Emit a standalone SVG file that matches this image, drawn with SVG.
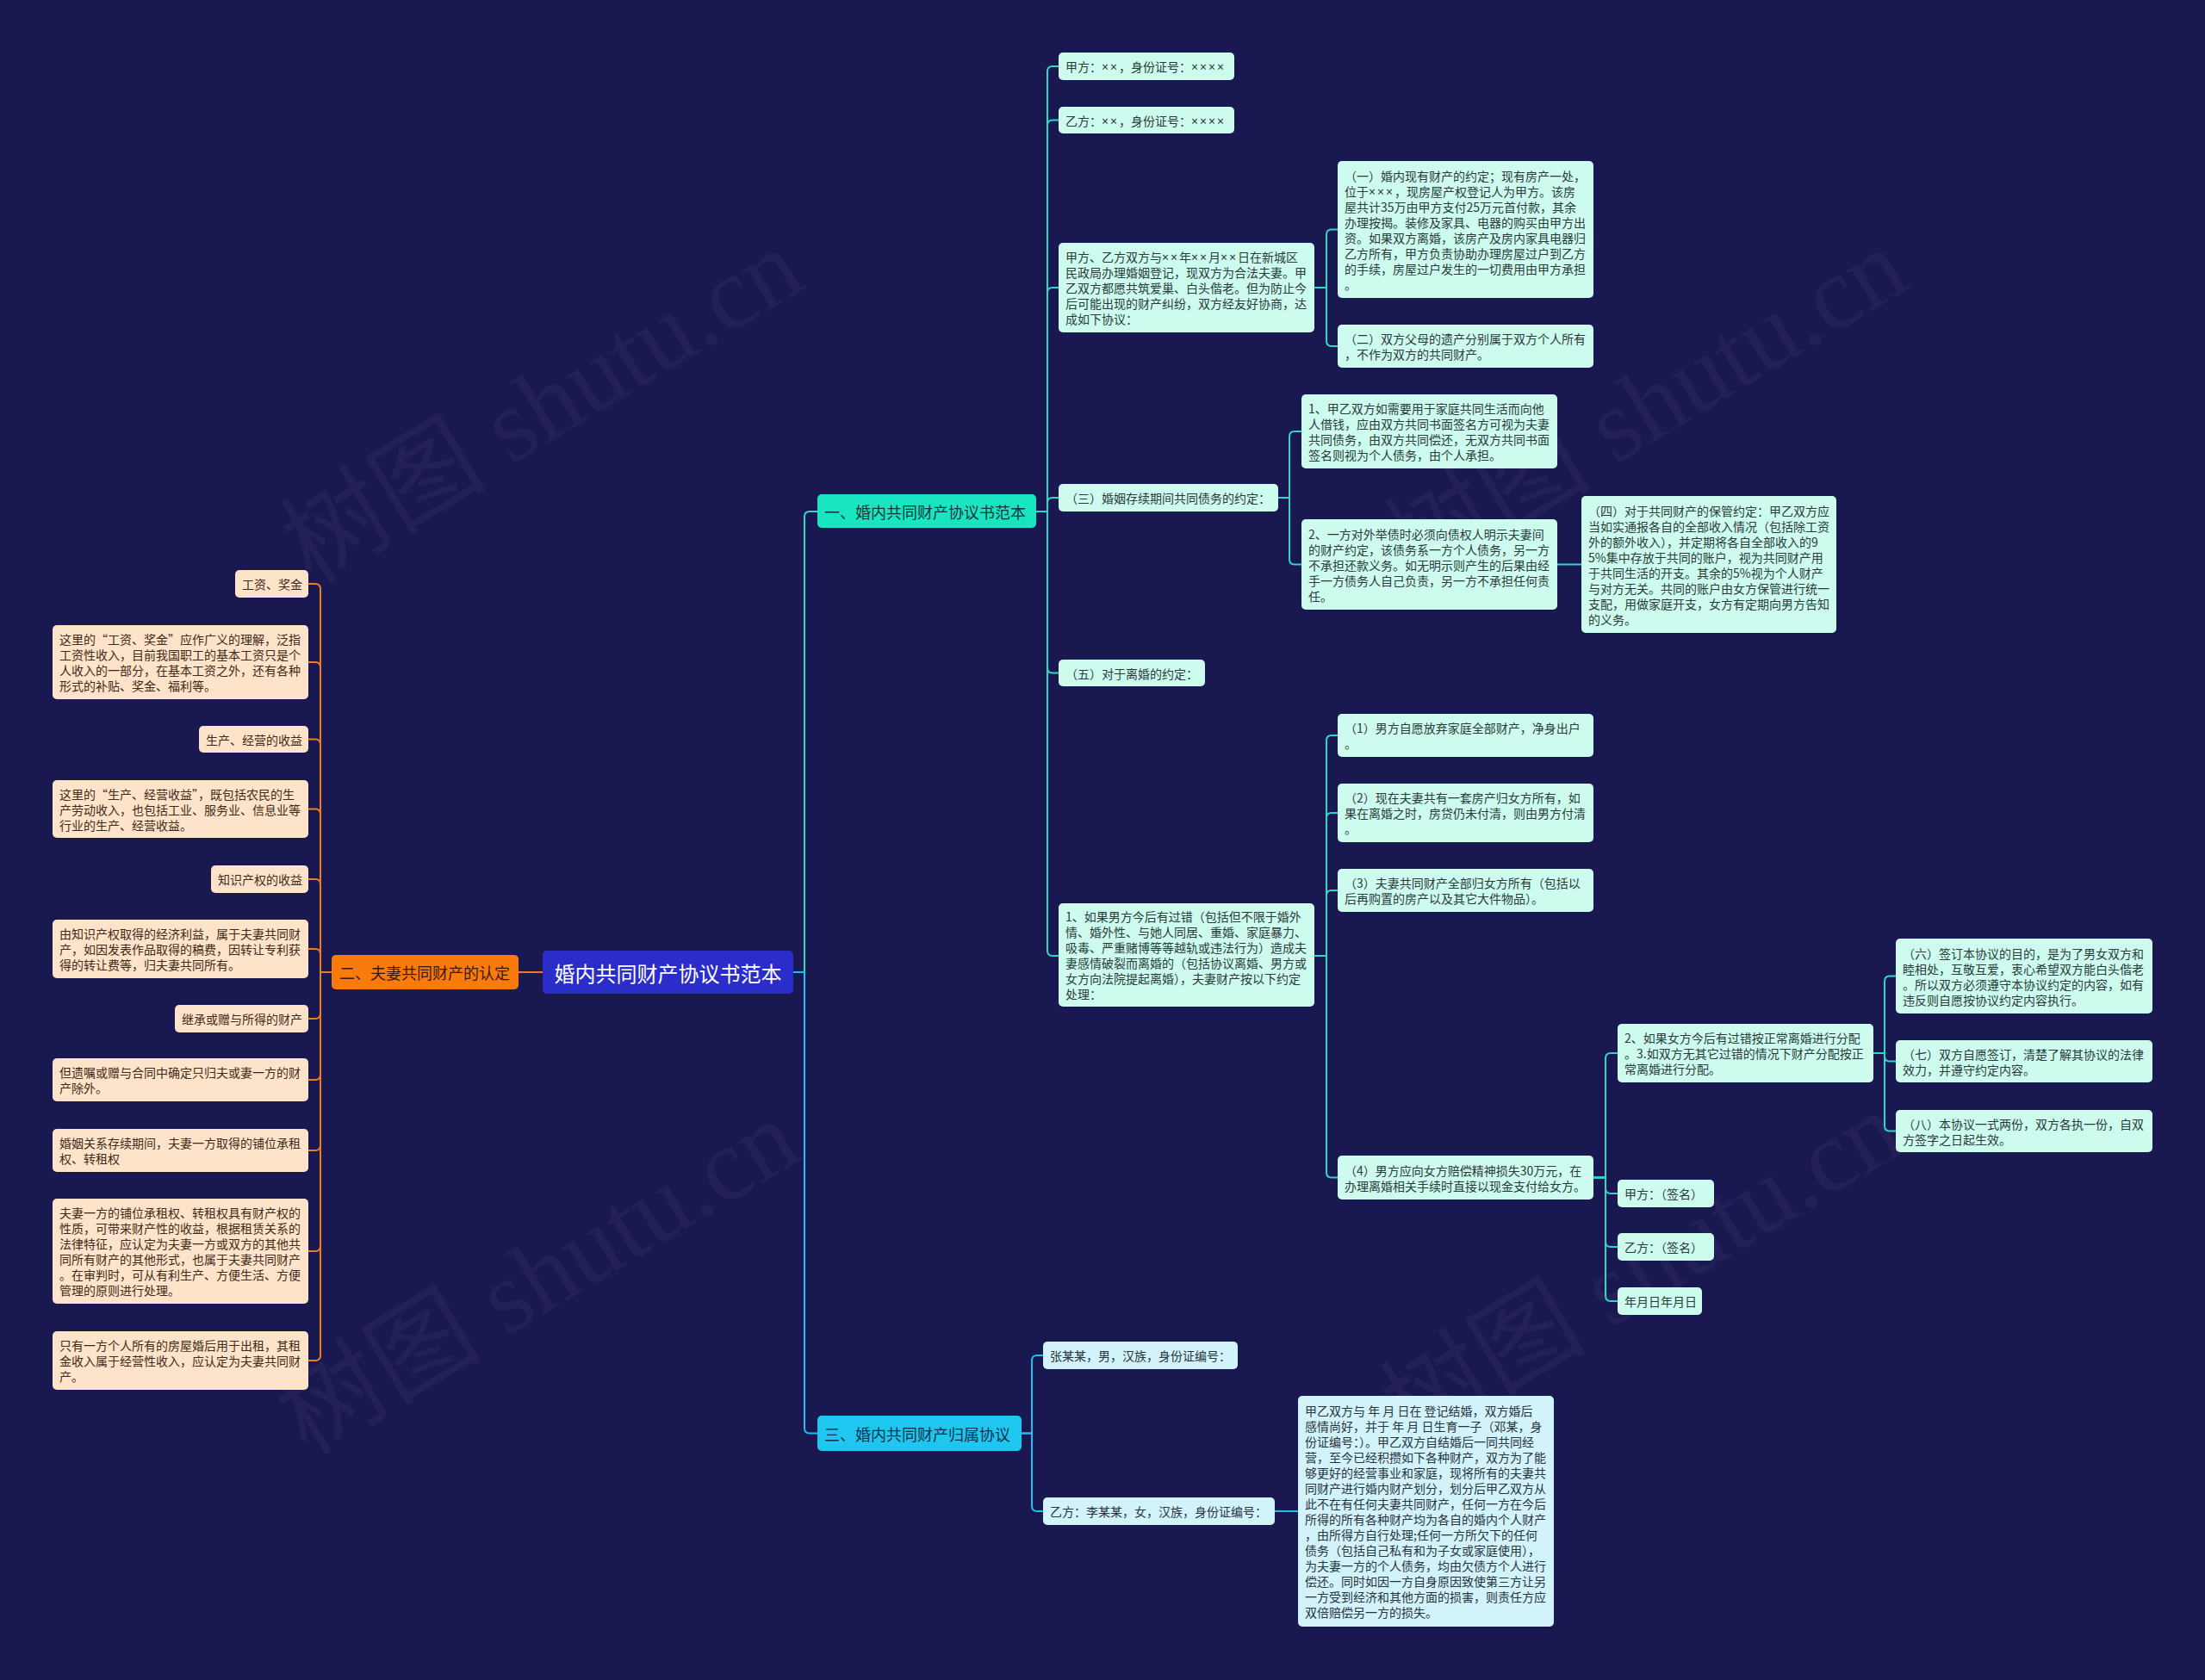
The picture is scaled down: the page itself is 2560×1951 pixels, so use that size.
<svg xmlns="http://www.w3.org/2000/svg" width="2560" height="1951" viewBox="0 0 2560 1951">
<style>
.t{font-family:"Noto Sans CJK SC","Noto Sans",sans-serif;font-size:14px;dominant-baseline:central;}
.x{font-family:"Noto Sans","Liberation Sans",sans-serif;letter-spacing:2px;}
.m rect{fill:#cdfcef;}
.m text{fill:#2a3a3a;}
.b rect{fill:#d3f3fb;}
.b text{fill:#27343d;}
.p rect{fill:#fde3c9;}
.p text{fill:#3f2a18;}
.wm{font-family:"Liberation Serif","Noto Sans CJK SC",serif;font-size:120px;fill:#ffffff;fill-opacity:0.035;text-anchor:middle;}
.c{fill:none;stroke-width:2;}
.ct{stroke:#2fd8c4;}
.cb{stroke:#1fbdf0;}
.co{stroke:#f07c1e;}
</style>
<rect x="0" y="0" width="2560" height="1951" fill="#1a1851"/>
<g id="watermarks">
<text class="wm" transform="translate(650,506) rotate(-31)">树图 shutu.cn</text>
<text class="wm" transform="translate(1932,506) rotate(-31)">树图 shutu.cn</text>
<text class="wm" transform="translate(645,1518) rotate(-31)">树图 shutu.cn</text>
<text class="wm" transform="translate(1927,1508) rotate(-31)">树图 shutu.cn</text>
</g>
<g id="connectors">
<path class="c ct" d="M921,1129 H934 V600 Q934,594 940,594 H949"/>
<path class="c cb" d="M921,1129 H934 V1658.5 Q934,1664.5 940,1664.5 H949"/>
<path class="c co" d="M630,1129 H602"/>
<path class="c ct" d="M1203,594 H1216 V83 Q1216,77 1222,77 H1229"/>
<path class="c ct" d="M1203,594 H1216 V145.5 Q1216,139.5 1222,139.5 H1229"/>
<path class="c ct" d="M1203,594 H1216 V340 Q1216,334 1222,334 H1229"/>
<path class="c ct" d="M1203,594 H1216 V584 Q1216,578 1222,578 H1229"/>
<path class="c ct" d="M1203,594 H1216 V775.5 Q1216,781.5 1222,781.5 H1229"/>
<path class="c ct" d="M1203,594 H1216 V1104 Q1216,1110 1222,1110 H1229"/>
<path class="c ct" d="M1526,334 H1540 V272.5 Q1540,266.5 1546,266.5 H1553"/>
<path class="c ct" d="M1526,334 H1540 V396 Q1540,402 1546,402 H1553"/>
<path class="c ct" d="M1484,578 H1497 V507 Q1497,501 1503,501 H1511"/>
<path class="c ct" d="M1484,578 H1497 V649.5 Q1497,655.5 1503,655.5 H1511"/>
<path class="c ct" d="M1808,655.5 H1836"/>
<path class="c ct" d="M1526,1110 H1540 V860 Q1540,854 1546,854 H1553"/>
<path class="c ct" d="M1526,1110 H1540 V950 Q1540,944 1546,944 H1553"/>
<path class="c ct" d="M1526,1110 H1540 V1040 Q1540,1034 1546,1034 H1553"/>
<path class="c ct" d="M1526,1110 H1540 V1361.5 Q1540,1367.5 1546,1367.5 H1553"/>
<path class="c ct" d="M1850,1367.5 H1864 V1229 Q1864,1223 1870,1223 H1878"/>
<path class="c ct" d="M1850,1367.5 H1864 V1380 Q1864,1386 1870,1386 H1878"/>
<path class="c ct" d="M1850,1367.5 H1864 V1442 Q1864,1448 1870,1448 H1878"/>
<path class="c ct" d="M1850,1367.5 H1864 V1505 Q1864,1511 1870,1511 H1878"/>
<path class="c ct" d="M2175,1223 H2188 V1139.5 Q2188,1133.5 2194,1133.5 H2201"/>
<path class="c ct" d="M2175,1223 H2188 V1226.5 Q2188,1232.5 2194,1232.5 H2201"/>
<path class="c ct" d="M2175,1223 H2188 V1307.5 Q2188,1313.5 2194,1313.5 H2201"/>
<path class="c cb" d="M1186,1664.5 H1198 V1580 Q1198,1574 1204,1574 H1211"/>
<path class="c cb" d="M1186,1664.5 H1198 V1749 Q1198,1755 1204,1755 H1211"/>
<path class="c cb" d="M1480,1755 H1507"/>
<path class="c co" d="M385,1129 H372 V684 Q372,678 366,678 H358"/>
<path class="c co" d="M385,1129 H372 V775 Q372,769 366,769 H358"/>
<path class="c co" d="M385,1129 H372 V864.5 Q372,858.5 366,858.5 H358"/>
<path class="c co" d="M385,1129 H372 V945.5 Q372,939.5 366,939.5 H358"/>
<path class="c co" d="M385,1129 H372 V1027 Q372,1021 366,1021 H358"/>
<path class="c co" d="M385,1129 H372 V1108 Q372,1102 366,1102 H358"/>
<path class="c co" d="M385,1129 H372 V1177 Q372,1183 366,1183 H358"/>
<path class="c co" d="M385,1129 H372 V1248 Q372,1254 366,1254 H358"/>
<path class="c co" d="M385,1129 H372 V1330 Q372,1336 366,1336 H358"/>
<path class="c co" d="M385,1129 H372 V1447 Q372,1453 366,1453 H358"/>
<path class="c co" d="M385,1129 H372 V1574 Q372,1580 366,1580 H358"/>
</g>
<g id="root">
<rect x="630" y="1104" width="291" height="50" rx="5" fill="#2a2dc9"/>
<text x="775.5" y="1129" text-anchor="middle" style="font-family:'Noto Sans CJK SC',sans-serif;font-size:24px;fill:#ffffff;dominant-baseline:central">婚内共同财产协议书范本</text>
</g>
<g id="branch1">
<rect x="949" y="574" width="254" height="39" rx="5" fill="#19e6c1"/>
<text x="957" y="593.5" style="font-family:'Noto Sans CJK SC',sans-serif;font-size:18px;fill:#17363a;dominant-baseline:central">一、婚内共同财产协议书范本</text>
</g>
<g id="branch2">
<rect x="385" y="1109" width="217" height="40" rx="5" fill="#fb7a0c"/>
<text x="394" y="1129" style="font-family:'Noto Sans CJK SC',sans-serif;font-size:18px;fill:#3a1a05;dominant-baseline:central">二、夫妻共同财产的认定</text>
</g>
<g id="branch3">
<rect x="949" y="1644" width="237" height="41" rx="5" fill="#1ec6f0"/>
<text x="957" y="1664.5" style="font-family:'Noto Sans CJK SC',sans-serif;font-size:18px;fill:#14304a;dominant-baseline:central">三、婚内共同财产归属协议</text>
</g>
<g id="a1" class="m"><rect x="1229" y="61" width="204" height="32" rx="5"/><text class="t"><tspan x="1237" y="77">甲方：<tspan class="x">××</tspan>，身份证号：<tspan class="x">××××</tspan></tspan></text></g>
<g id="a2" class="m"><rect x="1229" y="124" width="204" height="31" rx="5"/><text class="t"><tspan x="1237" y="139.5">乙方：<tspan class="x">××</tspan>，身份证号：<tspan class="x">××××</tspan></tspan></text></g>
<g id="a3" class="m"><rect x="1229" y="282" width="297" height="104" rx="5"/><text class="t">
<tspan x="1237" y="298">甲方、乙方双方与<tspan class="x">××</tspan>年<tspan class="x">××</tspan>月<tspan class="x">××</tspan>日在新城区</tspan>
<tspan x="1237" y="316">民政局办理婚姻登记，现双方为合法夫妻。甲</tspan>
<tspan x="1237" y="334">乙双方都愿共筑爱巢、白头偕老。但为防止今</tspan>
<tspan x="1237" y="352">后可能出现的财产纠纷，双方经友好协商，达</tspan>
<tspan x="1237" y="370">成如下协议：</tspan></text></g>
<g id="a3a" class="m"><rect x="1553" y="187" width="297" height="159" rx="5"/><text class="t">
<tspan x="1561" y="203.5">（一）婚内现有财产的约定；现有房产一处，</tspan>
<tspan x="1561" y="221.5">位于<tspan class="x">×××</tspan>，现房屋产权登记人为甲方。该房</tspan>
<tspan x="1561" y="239.5">屋共计35万由甲方支付25万元首付款，其余</tspan>
<tspan x="1561" y="257.5">办理按揭。装修及家具、电器的购买由甲方出</tspan>
<tspan x="1561" y="275.5">资。如果双方离婚，该房产及房内家具电器归</tspan>
<tspan x="1561" y="293.5">乙方所有，甲方负责协助办理房屋过户到乙方</tspan>
<tspan x="1561" y="311.5">的手续，房屋过户发生的一切费用由甲方承担</tspan>
<tspan x="1561" y="329.5">。</tspan></text></g>
<g id="a3b" class="m"><rect x="1553" y="377" width="297" height="50" rx="5"/><text class="t">
<tspan x="1561" y="393">（二）双方父母的遗产分别属于双方个人所有</tspan>
<tspan x="1561" y="411">，不作为双方的共同财产。</tspan></text></g>
<g id="a4" class="m"><rect x="1229" y="562" width="255" height="32" rx="5"/><text class="t"><tspan x="1237" y="578">（三）婚姻存续期间共同债务的约定：</tspan></text></g>
<g id="a4a" class="m"><rect x="1511" y="458" width="297" height="86" rx="5"/><text class="t">
<tspan x="1519" y="474">1、甲乙双方如需要用于家庭共同生活而向他</tspan>
<tspan x="1519" y="492">人借钱，应由双方共同书面签名方可视为夫妻</tspan>
<tspan x="1519" y="510">共同债务，由双方共同偿还，无双方共同书面</tspan>
<tspan x="1519" y="528">签名则视为个人债务，由个人承担。</tspan></text></g>
<g id="a4b" class="m"><rect x="1511" y="603" width="297" height="105" rx="5"/><text class="t">
<tspan x="1519" y="619.5">2、一方对外举债时必须向债权人明示夫妻间</tspan>
<tspan x="1519" y="637.5">的财产约定，该债务系一方个人债务，另一方</tspan>
<tspan x="1519" y="655.5">不承担还款义务。如无明示则产生的后果由经</tspan>
<tspan x="1519" y="673.5">手一方债务人自己负责，另一方不承担任何责</tspan>
<tspan x="1519" y="691.5">任。</tspan></text></g>
<g id="a4c" class="m"><rect x="1836" y="576" width="296" height="159" rx="5"/><text class="t">
<tspan x="1844" y="592.5">（四）对于共同财产的保管约定：甲乙双方应</tspan>
<tspan x="1844" y="610.5">当如实通报各自的全部收入情况（包括除工资</tspan>
<tspan x="1844" y="628.5">外的额外收入），并定期将各自全部收入的9</tspan>
<tspan x="1844" y="646.5">5%集中存放于共同的账户，视为共同财产用</tspan>
<tspan x="1844" y="664.5">于共同生活的开支。其余的5%视为个人财产</tspan>
<tspan x="1844" y="682.5">与对方无关。共同的账户由女方保管进行统一</tspan>
<tspan x="1844" y="700.5">支配，用做家庭开支，女方有定期向男方告知</tspan>
<tspan x="1844" y="718.5">的义务。</tspan></text></g>
<g id="a5" class="m"><rect x="1229" y="766" width="170" height="31" rx="5"/><text class="t"><tspan x="1237" y="781.5">（五）对于离婚的约定：</tspan></text></g>
<g id="a6" class="m"><rect x="1229" y="1049" width="297" height="120" rx="5"/><text class="t">
<tspan x="1237" y="1064">1、如果男方今后有过错（包括但不限于婚外</tspan>
<tspan x="1237" y="1082">情、婚外性、与她人同居、重婚、家庭暴力、</tspan>
<tspan x="1237" y="1100">吸毒、严重赌博等等越轨或违法行为）造成夫</tspan>
<tspan x="1237" y="1118">妻感情破裂而离婚的（包括协议离婚、男方或</tspan>
<tspan x="1237" y="1136">女方向法院提起离婚），夫妻财产按以下约定</tspan>
<tspan x="1237" y="1154">处理：</tspan></text></g>
<g id="a6a" class="m"><rect x="1553" y="829" width="297" height="50" rx="5"/><text class="t">
<tspan x="1561" y="845">（1）男方自愿放弃家庭全部财产，净身出户</tspan>
<tspan x="1561" y="863">。</tspan></text></g>
<g id="a6b" class="m"><rect x="1553" y="910" width="297" height="68" rx="5"/><text class="t">
<tspan x="1561" y="926">（2）现在夫妻共有一套房产归女方所有，如</tspan>
<tspan x="1561" y="944">果在离婚之时，房贷仍未付清，则由男方付清</tspan>
<tspan x="1561" y="962">。</tspan></text></g>
<g id="a6c" class="m"><rect x="1553" y="1009" width="297" height="50" rx="5"/><text class="t">
<tspan x="1561" y="1025">（3）夫妻共同财产全部归女方所有（包括以</tspan>
<tspan x="1561" y="1043">后再购置的房产以及其它大件物品）。</tspan></text></g>
<g id="a6d" class="m"><rect x="1553" y="1342" width="297" height="51" rx="5"/><text class="t">
<tspan x="1561" y="1358.5">（4）男方应向女方赔偿精神损失30万元，在</tspan>
<tspan x="1561" y="1376.5">办理离婚相关手续时直接以现金支付给女方。</tspan></text></g>
<g id="a7" class="m"><rect x="1878" y="1189" width="297" height="68" rx="5"/><text class="t">
<tspan x="1886" y="1205">2、如果女方今后有过错按正常离婚进行分配</tspan>
<tspan x="1886" y="1223">。3.如双方无其它过错的情况下财产分配按正</tspan>
<tspan x="1886" y="1241">常离婚进行分配。</tspan></text></g>
<g id="a7a" class="m"><rect x="2201" y="1090" width="298" height="87" rx="5"/><text class="t">
<tspan x="2209" y="1106.5">（六）签订本协议的目的，是为了男女双方和</tspan>
<tspan x="2209" y="1124.5">睦相处，互敬互爱，衷心希望双方能白头偕老</tspan>
<tspan x="2209" y="1142.5">。所以双方必须遵守本协议约定的内容，如有</tspan>
<tspan x="2209" y="1160.5">违反则自愿按协议约定内容执行。</tspan></text></g>
<g id="a7b" class="m"><rect x="2201" y="1208" width="298" height="49" rx="5"/><text class="t">
<tspan x="2209" y="1223.5">（七）双方自愿签订，清楚了解其协议的法律</tspan>
<tspan x="2209" y="1241.5">效力，并遵守约定内容。</tspan></text></g>
<g id="a7c" class="m"><rect x="2201" y="1289" width="298" height="49" rx="5"/><text class="t">
<tspan x="2209" y="1304.5">（八）本协议一式两份，双方各执一份，自双</tspan>
<tspan x="2209" y="1322.5">方签字之日起生效。</tspan></text></g>
<g id="a8" class="m"><rect x="1878" y="1370" width="112" height="32" rx="5"/><text class="t"><tspan x="1886" y="1386">甲方：（签名）</tspan></text></g>
<g id="a9" class="m"><rect x="1878" y="1432" width="112" height="32" rx="5"/><text class="t"><tspan x="1886" y="1448">乙方：（签名）</tspan></text></g>
<g id="a10" class="m"><rect x="1878" y="1495" width="98" height="32" rx="5"/><text class="t"><tspan x="1886" y="1511">年月日年月日</tspan></text></g>
<g id="c1" class="b"><rect x="1211" y="1558" width="226" height="32" rx="5"/><text class="t"><tspan x="1219" y="1574">张某某，男，汉族，身份证编号：</tspan></text></g>
<g id="c2" class="b"><rect x="1211" y="1739" width="269" height="32" rx="5"/><text class="t"><tspan x="1219" y="1755">乙方：李某某，女，汉族，身份证编号：</tspan></text></g>
<g id="c3" class="b"><rect x="1507" y="1621" width="297" height="268" rx="5"/><text class="t">
<tspan x="1515" y="1638">甲乙双方与 年 月 日在 登记结婚，双方婚后</tspan>
<tspan x="1515" y="1656">感情尚好，并于 年 月 日生育一子（邓某，身</tspan>
<tspan x="1515" y="1674">份证编号：）。甲乙双方自结婚后一同共同经</tspan>
<tspan x="1515" y="1692">营，至今已经积攒如下各种财产，双方为了能</tspan>
<tspan x="1515" y="1710">够更好的经营事业和家庭，现将所有的夫妻共</tspan>
<tspan x="1515" y="1728">同财产进行婚内财产划分，划分后甲乙双方从</tspan>
<tspan x="1515" y="1746">此不在有任何夫妻共同财产，任何一方在今后</tspan>
<tspan x="1515" y="1764">所得的所有各种财产均为各自的婚内个人财产</tspan>
<tspan x="1515" y="1782">，由所得方自行处理;任何一方所欠下的任何</tspan>
<tspan x="1515" y="1800">债务（包括自己私有和为子女或家庭使用），</tspan>
<tspan x="1515" y="1818">为夫妻一方的个人债务，均由欠债方个人进行</tspan>
<tspan x="1515" y="1836">偿还。同时如因一方自身原因致使第三方让另</tspan>
<tspan x="1515" y="1854">一方受到经济和其他方面的损害，则责任方应</tspan>
<tspan x="1515" y="1872">双倍赔偿另一方的损失。</tspan></text></g>
<g id="b1" class="p"><rect x="273" y="662" width="85" height="32" rx="5"/><text class="t"><tspan x="281" y="678">工资、奖金</tspan></text></g>
<g id="b2" class="p"><rect x="61" y="726" width="297" height="86" rx="5"/><text class="t">
<tspan x="69" y="742">这里的“工资、奖金”应作广义的理解，泛指</tspan>
<tspan x="69" y="760">工资性收入，目前我国职工的基本工资只是个</tspan>
<tspan x="69" y="778">人收入的一部分，在基本工资之外，还有各种</tspan>
<tspan x="69" y="796">形式的补贴、奖金、福利等。</tspan></text></g>
<g id="b3" class="p"><rect x="231" y="843" width="127" height="31" rx="5"/><text class="t"><tspan x="239" y="858.5">生产、经营的收益</tspan></text></g>
<g id="b4" class="p"><rect x="61" y="906" width="297" height="67" rx="5"/><text class="t">
<tspan x="69" y="921.5">这里的“生产、经营收益”，既包括农民的生</tspan>
<tspan x="69" y="939.5">产劳动收入，也包括工业、服务业、信息业等</tspan>
<tspan x="69" y="957.5">行业的生产、经营收益。</tspan></text></g>
<g id="b5" class="p"><rect x="245" y="1005" width="113" height="32" rx="5"/><text class="t"><tspan x="253" y="1021">知识产权的收益</tspan></text></g>
<g id="b6" class="p"><rect x="61" y="1068" width="297" height="68" rx="5"/><text class="t">
<tspan x="69" y="1084">由知识产权取得的经济利益，属于夫妻共同财</tspan>
<tspan x="69" y="1102">产，如因发表作品取得的稿费，因转让专利获</tspan>
<tspan x="69" y="1120">得的转让费等，归夫妻共同所有。</tspan></text></g>
<g id="b7" class="p"><rect x="203" y="1167" width="155" height="32" rx="5"/><text class="t"><tspan x="211" y="1183">继承或赠与所得的财产</tspan></text></g>
<g id="b8" class="p"><rect x="61" y="1229" width="297" height="50" rx="5"/><text class="t">
<tspan x="69" y="1245">但遗嘱或赠与合同中确定只归夫或妻一方的财</tspan>
<tspan x="69" y="1263">产除外。</tspan></text></g>
<g id="b9" class="p"><rect x="61" y="1311" width="297" height="50" rx="5"/><text class="t">
<tspan x="69" y="1327">婚姻关系存续期间，夫妻一方取得的铺位承租</tspan>
<tspan x="69" y="1345">权、转租权</tspan></text></g>
<g id="b10" class="p"><rect x="61" y="1392" width="297" height="122" rx="5"/><text class="t">
<tspan x="69" y="1408">夫妻一方的铺位承租权、转租权具有财产权的</tspan>
<tspan x="69" y="1426">性质，可带来财产性的收益，根据租赁关系的</tspan>
<tspan x="69" y="1444">法律特征，应认定为夫妻一方或双方的其他共</tspan>
<tspan x="69" y="1462">同所有财产的其他形式，也属于夫妻共同财产</tspan>
<tspan x="69" y="1480">。在审判时，可从有利生产、方便生活、方便</tspan>
<tspan x="69" y="1498">管理的原则进行处理。</tspan></text></g>
<g id="b11" class="p"><rect x="61" y="1546" width="297" height="68" rx="5"/><text class="t">
<tspan x="69" y="1562">只有一方个人所有的房屋婚后用于出租，其租</tspan>
<tspan x="69" y="1580">金收入属于经营性收入，应认定为夫妻共同财</tspan>
<tspan x="69" y="1598">产。</tspan></text></g>
</svg>
